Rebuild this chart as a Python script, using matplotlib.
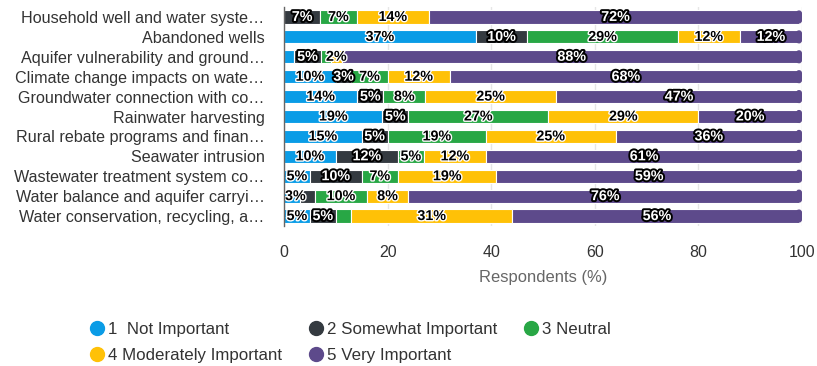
import numpy as np
import matplotlib
matplotlib.use("Agg")
import matplotlib.pyplot as plt
import matplotlib.patheffects as pe
from matplotlib.lines import Line2D
from matplotlib.patches import FancyBboxPatch

plt.rcParams['font.family'] = ['Liberation Sans', 'DejaVu Sans']

categories = [
    "Household well and water syste…",
    "Abandoned wells",
    "Aquifer vulnerability and ground…",
    "Climate change impacts on wate…",
    "Groundwater connection with co…",
    "Rainwater harvesting",
    "Rural rebate programs and finan…",
    "Seawater intrusion",
    "Wastewater treatment system co…",
    "Water balance and aquifer carryi…",
    "Water conservation, recycling, a…",
]
not_important = [0, 37, 2, 10, 14, 19, 15, 10, 5, 3, 5]
somewhat_important = [7, 10, 5, 3, 5, 5, 5, 12, 10, 3, 5]
neutral = [7, 29, 2, 7, 8, 27, 19, 5, 7, 10, 3]
moderately_important = [14, 12, 2, 12, 25, 29, 25, 12, 19, 8, 31]
very_important = [72, 12, 88, 68, 47, 20, 36, 61, 59, 76, 56]
series_names = ["1  Not Important", "2 Somewhat Important", "3 Neutral",
                "4 Moderately Important", "5 Very Important"]
x_ticks = [0, 20, 40, 60, 80, 100]
# labels hidden by the chart's overlap handling: (row, series)
hidden_labels = [(2, 0), (2, 2), (9, 1), (10, 2)]

colors = ["#0a9ce6", "#343a40", "#28a745", "#ffc107", "#5d4a8b"]
dark_bg = [False, True, False, False, True]

series = [not_important, somewhat_important, neutral, moderately_important, very_important]
vals = np.array(series, dtype=float)
totals = vals.sum(axis=0)
pct = vals / totals * 100

fig = plt.figure(figsize=(8.17, 3.66), dpi=100)
ax_w_px, ax_h_px = 802 - 284, 226 - 7
ax = fig.add_axes([284 / 817, 1 - 226 / 366, ax_w_px / 817, ax_h_px / 366])

n = len(categories)
ax.set_xlim(0, 100)
ax.set_ylim(n - 0.5, -0.5)

bar_h = 0.66
radius_px = 3.0
rx = radius_px * 100 / ax_w_px          # corner radius in x data units
ry = radius_px * n / ax_h_px            # corner radius in y data units

y = np.arange(n)
left = np.zeros(n)
texts = []
for i in range(5):
    widths = pct[i].copy()
    last = (i == 4)
    if last:
        widths = widths - rx
    ax.barh(y, widths, left=left, height=bar_h, color=colors[i],
            edgecolor="white", linewidth=0.8, zorder=2)
    if last:
        # rounded cap at the end of each stack
        for r in range(n):
            end = left[r] + pct[i][r]
            cap = FancyBboxPatch((end - 2 * rx, r - bar_h / 2), 2 * rx, bar_h,
                                 boxstyle=f"round,pad=0,rounding_size={rx}",
                                 mutation_aspect=ry / rx, facecolor=colors[i],
                                 edgecolor="none", zorder=2.1)
            ax.add_patch(cap)
    for r in range(n):
        v = series[i][r]
        if v == 0 or (r, i) in hidden_labels:
            continue
        cx = left[r] + pct[i][r] / 2
        if dark_bg[i]:
            tc, oc, lw = "white", "black", 2.8
        else:
            tc, oc, lw = "black", "white", 2.0
        t = ax.text(cx, r, f"{v}%", ha="center", va="center", fontsize=10.3,
                    fontweight="bold", color=tc, zorder=4,
                    path_effects=[pe.withStroke(linewidth=lw, foreground=oc)])
        texts.append(t)
    left = left + pct[i]

ax.set_yticks(y)
ax.set_yticklabels(categories, fontsize=11.6, color="#333333")
ax.set_xticks(x_ticks)
ax.set_xticklabels([str(t) for t in x_ticks], fontsize=11.5, color="#333333")
ax.tick_params(axis="y", length=0, pad=14)
ax.tick_params(axis="x", length=0, pad=14)
ax.xaxis.grid(True, color="#e6e6e6", linewidth=1, zorder=0)
ax.set_axisbelow(True)
for s in ["top", "right", "bottom"]:
    ax.spines[s].set_visible(False)
ax.spines["left"].set_color("#666666")
ax.spines["left"].set_linewidth(1)
ax.spines["left"].set_zorder(5)
ax.set_xlabel("Respondents (%)", fontsize=11.9, color="#666666", labelpad=7)

# justify data labels that would cross the left edge of the plot area
fig.canvas.draw()
renderer = fig.canvas.get_renderer()
x0_px = ax.transData.transform((0, 0))[0]
for t in texts:
    bb = t.get_window_extent(renderer)
    if bb.x0 < x0_px:
        shift = x0_px - bb.x0 + 1
        xd, yd = t.get_position()
        new_x = ax.transData.inverted().transform(
            (ax.transData.transform((xd, yd))[0] + shift, 0))[0]
        t.set_x(new_x)

handles = [Line2D([], [], marker="o", linestyle="none", markersize=10,
                  markerfacecolor=c, markeredgecolor=c) for c in colors]
order = [0, 3, 1, 4, 2]
fig.legend([handles[k] for k in order], [series_names[k] for k in order],
           ncol=3, loc="upper left", bbox_to_anchor=(90 / 817, 1 - 322 / 366),
           frameon=False, fontsize=12.2, labelcolor="#333333",
           handletextpad=0.25, columnspacing=1.6, handlelength=0.8,
           labelspacing=0.62, borderaxespad=0, borderpad=0)

fig.savefig("out.png", dpi=100)
